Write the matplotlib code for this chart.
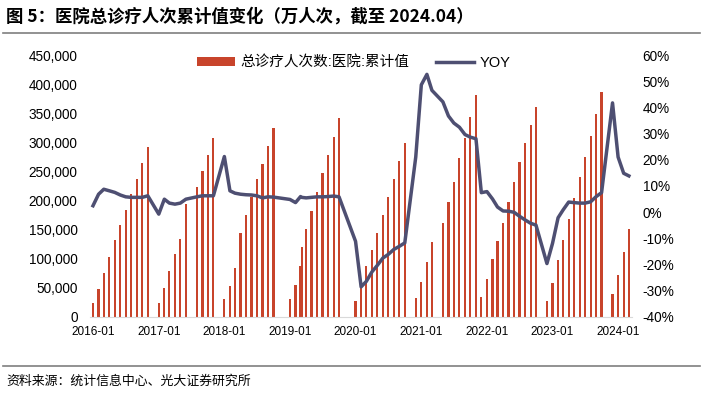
import matplotlib
matplotlib.use('Agg')
import matplotlib.pyplot as plt
from matplotlib.lines import Line2D
from matplotlib.ticker import FuncFormatter
import matplotlib.dates as mdates
import pandas as pd

# 柱子所在的日期（按图上位置读取）
dates = [
    '2016-01-01', '2016-02-01', '2016-03-01', '2016-04-01', '2016-05-01', '2016-06-01',
    '2016-07-01', '2016-08-01', '2016-09-01', '2016-10-01', '2016-11-01',
    '2017-01-01', '2017-02-01', '2017-03-01', '2017-04-01', '2017-05-01', '2017-06-01',
    '2017-08-01', '2017-09-01', '2017-10-01', '2017-11-01',
    '2018-01-01', '2018-02-01', '2018-03-01', '2018-04-01', '2018-05-01', '2018-06-01',
    '2018-07-01', '2018-08-01', '2018-09-01', '2018-10-01',
    '2019-01-01', '2019-02-01', '2019-03-01', '2019-03-07', '2019-04-01', '2019-05-01',
    '2019-06-01', '2019-07-01', '2019-08-01', '2019-09-01', '2019-10-01',
    '2020-01-01', '2020-02-01', '2020-03-01', '2020-04-01', '2020-05-01', '2020-06-01',
    '2020-07-01', '2020-08-01', '2020-09-01', '2020-10-01',
    '2020-12-01', '2021-01-01', '2021-02-01', '2021-03-01', '2021-05-01', '2021-06-01',
    '2021-07-01', '2021-08-01', '2021-09-01', '2021-10-01', '2021-11-01',
    '2021-12-01', '2022-01-01', '2022-02-01', '2022-03-01', '2022-04-01', '2022-05-01',
    '2022-06-01', '2022-07-01', '2022-08-01', '2022-09-01', '2022-10-01',
    '2022-12-01', '2023-01-01', '2023-02-01', '2023-03-01', '2023-04-01', '2023-05-01',
    '2023-06-01', '2023-07-01', '2023-08-01', '2023-09-01', '2023-10-01',
    '2023-12-01', '2024-01-01', '2024-02-01', '2024-03-01',
]

# 总诊疗人次数:医院:累计值（万人次）
cum = [
    22900, 47000, 75700, 103200, 131300, 157600, 183400, 211000, 237300, 263700, 291200,
    24100, 49900, 79100, 107300, 134100, 193800, 223000, 251000, 278000, 307800,
    29900, 53300, 84300, 144500, 174300, 205300, 236300, 263000, 293500, 323900,
    31000, 55000, 87700, 120400, 151300, 182300, 214900, 247600, 278600, 309500, 342200,
    27300, 49900, 87700, 115300, 143400, 174300, 205200, 236800, 267400, 299500,
    32700, 59100, 94600, 128400, 161700, 196700, 232100, 272300, 307300, 343900, 381200,
    34400, 64300, 98700, 129600, 161700, 196700, 232100, 266500, 299200, 330200, 361100,
    27500, 58500, 97500, 131900, 167500, 203600, 239700, 275100, 310700, 348500, 386900,
    38500, 71200, 110700, 150300,
]

# YOY (%)
yoy = [
    2.4, 6.8, 8.7, 8.1, 7.5, 6.5, 5.8, 5.6, 5.6, 5.6, 6.2,
    -0.8, 4.9, 3.4, 3.0, 3.4, 4.9, 5.8, 6.2, 6.2, 6.2,
    21.2, 8.1, 7.2, 6.8, 6.6, 6.5, 6.2, 5.4, 5.8, 5.7,
    4.8, 3.6, 5.9, 5.6, 5.4, 5.6, 5.8, 5.8, 5.9, 6.1, 5.8,
    -11.2, -28.6, -26.5, -22.9, -20.4, -17.6, -16.2, -14.3, -13.1, -11.8,
    21.0, 48.6, 52.6, 46.5, 42.1, 36.7, 34.0, 32.4, 29.6, 28.6, 28.0,
    7.4, 7.8, 5.0, 1.9, 0.4, 0.3, -0.1, -1.6, -3.0, -4.3, -5.0,
    -19.7, -12.0, -2.2, 0.8, 3.8, 3.6, 3.4, 3.4, 3.9, 5.9, 7.4,
    41.7, 21.0, 14.8, 13.8,
]

tick_dates = ['2016-01-01', '2017-01-01', '2018-01-01', '2019-01-01', '2020-01-01',
              '2021-01-01', '2022-01-01', '2023-01-01', '2024-01-01']

bar_color = '#C8442B'
line_color = '#4E4F72'

plt.rcParams['font.family'] = ['Liberation Sans', 'Noto Sans CJK SC']

fig = plt.figure(figsize=(7.03, 3.96), dpi=100)
ax = fig.add_axes([0.1282, 0.2003, 0.7702, 0.6608])
x = pd.to_datetime(dates)

bars = ax.bar(x, cum, width=12, color=bar_color, label='总诊疗人次数:医院:累计值')
ax.set_ylim(0, 450000)
ax.set_yticks(range(0, 450001, 50000))
ax.yaxis.set_major_formatter(FuncFormatter(lambda v, p: '{:,.0f}'.format(v)))
ax.set_xlim(pd.Timestamp('2015-12-16'), pd.Timestamp('2024-03-16'))
ax.set_xticks(pd.to_datetime(tick_dates))
ax.xaxis.set_major_formatter(mdates.DateFormatter('%Y-%m'))

ax2 = ax.twinx()
line, = ax2.plot(x, yoy, color=line_color, lw=2.5, solid_joinstyle='round', label='YOY')
ax2.set_ylim(-40, 60)
ax2.set_yticks(range(-40, 61, 10))
ax2.yaxis.set_major_formatter(FuncFormatter(lambda v, p: '{:.0f}%'.format(v)))

for a in (ax, ax2):
    for s in a.spines.values():
        s.set_visible(False)
ax.spines['bottom'].set_visible(True)
ax.spines['bottom'].set_color('#D9D9D9')
ax.tick_params(axis='y', length=0, labelsize=9.8, pad=9)
ax.tick_params(axis='x', length=0, labelsize=8.5, pad=7)
ax2.tick_params(axis='y', length=0, labelsize=9.8, pad=8)

ax2.legend(handles=[bars, line], loc='center', bbox_to_anchor=(0.487, 0.97), ncol=2,
           frameon=False, handlelength=2.6, handleheight=0.55, columnspacing=1.8,
           handletextpad=0.4, fontsize=10.5)

fig.text(0.009, 1 - 17 / 396, '图 5：医院总诊疗人次累计值变化（万人次，截至 2024.04）',
         fontsize=12.5, fontweight='bold', va='center', family=['Noto Sans CJK SC'])
fig.add_artist(Line2D([0.004, 0.996], [1 - 33 / 396, 1 - 33 / 396], color='#7F7F7F', lw=1.2,
                      transform=fig.transFigure))
fig.add_artist(Line2D([0.004, 0.996], [1 - 366 / 396, 1 - 366 / 396], color='#7F7F7F', lw=1.2,
                      transform=fig.transFigure))
fig.text(0.009, 1 - 381 / 396, '资料来源：统计信息中心、光大证券研究所',
         fontsize=9.3, va='center', family=['Noto Sans CJK SC'])

fig.savefig('out.png', dpi=100)
